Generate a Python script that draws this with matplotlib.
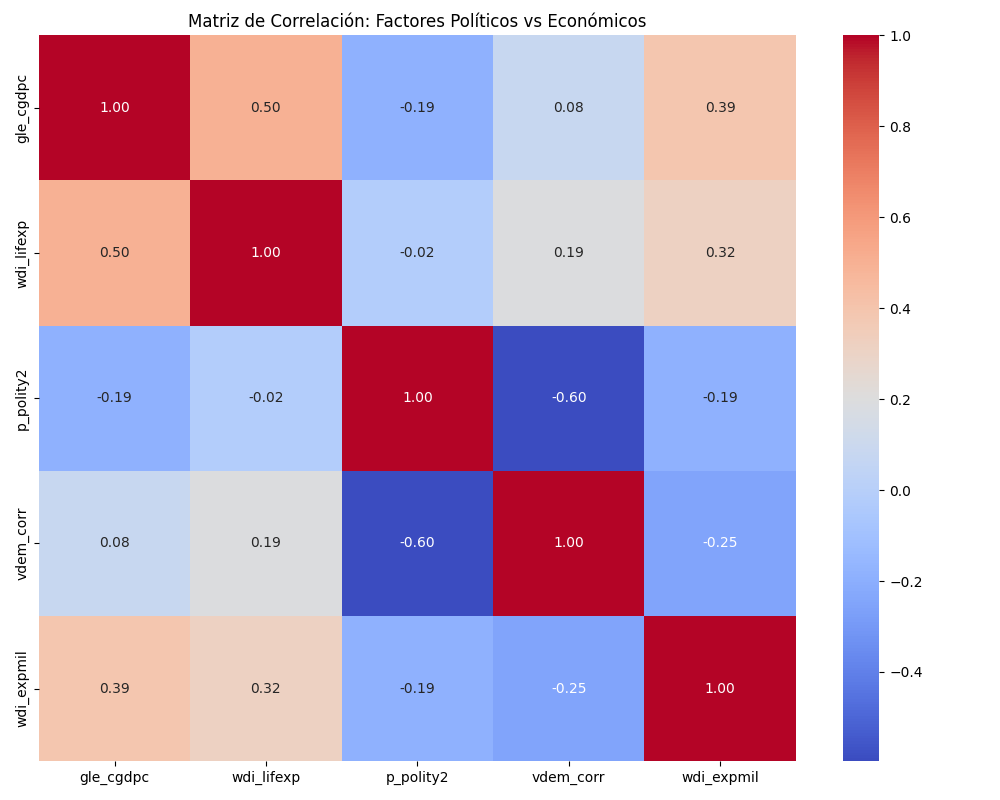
import numpy as np
import pandas as pd
import seaborn as sns
import matplotlib
matplotlib.use("Agg")
import matplotlib.pyplot as plt

variables = ["gle_cgdpc", "wdi_lifexp", "p_polity2", "vdem_corr", "wdi_expmil"]

gle_cgdpc = [1.00, 0.50, -0.19, 0.08, 0.39]
wdi_lifexp = [0.50, 1.00, -0.02, 0.19, 0.32]
p_polity2 = [-0.19, -0.02, 1.00, -0.596, -0.19]
vdem_corr = [0.08, 0.19, -0.596, 1.00, -0.25]
wdi_expmil = [0.39, 0.32, -0.19, -0.25, 1.00]

corr = pd.DataFrame([gle_cgdpc, wdi_lifexp, p_polity2, vdem_corr, wdi_expmil],
                    index=variables, columns=variables)

plt.figure(figsize=(10, 8))
sns.heatmap(corr, annot=True, cmap="coolwarm", fmt=".2f")
plt.title("Matriz de Correlación: Factores Políticos vs Económicos")
plt.tight_layout()
plt.subplots_adjust(top=0.956)
plt.savefig("out.png", dpi=100)
